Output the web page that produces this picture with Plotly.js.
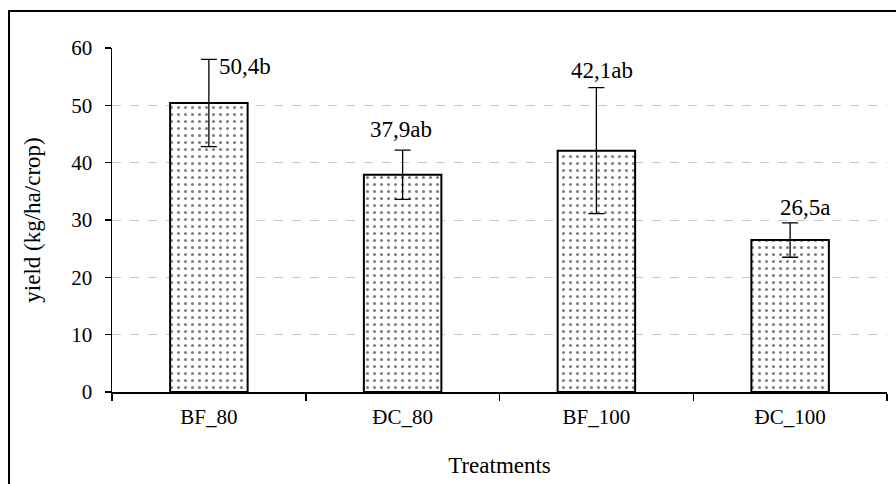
<!DOCTYPE html>
<html><head><meta charset="utf-8">
<script src="https://cdn.plot.ly/plotly-3.0.1.min.js"></script>
<style>body{margin:0;padding:0;background:#fff}#c{width:896px;height:484px}</style>
</head><body><div id="c"></div>
<script>
const categories = ["BF_80", "ĐC_80", "BF_100", "ĐC_100"];
const yieldValues = [50.4, 37.9, 42.1, 26.5];
const errorValues = [7.6, 4.3, 11.0, 3.0];
const labels = ["50,4b", "37,9ab", "42,1ab", "26,5a"];

const FAM = "Liberation Serif";
const labelShiftX = [8, -2, 6, 15];
const labelShiftY = [-7, 6, 3, 1];

const trace = {
  type: "bar",
  x: categories,
  y: yieldValues,
  width: 0.4,
  marker: {
    color: "#fff",
    line: {color: "#000", width: 2},
    pattern: {shape: ".", fgcolor: "#000", bgcolor: "#fff", size: 7, solidity: 0.15, fillmode: "overlay"}
  },
  error_y: {type: "data", array: errorValues, visible: true, color: "#000", thickness: 1.3, width: 8},
  hoverinfo: "none"
};

const annotations = categories.map((c, i) => {
  const top = yieldValues[i] + errorValues[i];
  if (i === 0) {
    return {x: c, y: top, text: labels[i], showarrow: false, xanchor: "left", yanchor: "middle", xshift: labelShiftX[i], yshift: labelShiftY[i], font: {family: FAM, color: "#000", size: 23}};
  }
  return {x: c, y: top, text: labels[i], showarrow: false, xanchor: "center", yanchor: "bottom", xshift: labelShiftX[i], yshift: labelShiftY[i], font: {family: FAM, color: "#000", size: 23}};
});

const layout = {
  width: 896, height: 484,
  margin: {l: 112, r: 9, t: 48, b: 92},
  paper_bgcolor: "#fff", plot_bgcolor: "#fff",
  showlegend: false,
  font: {family: FAM, color: "#000", size: 21},
  xaxis: {
    type: "category",
    range: [-0.5, 3.5],
    showline: true, linecolor: "#000", linewidth: 1.5,
    ticks: "outside", tickson: "boundaries", ticklen: 7, tickwidth: 1.5, tickcolor: "#000",
    showgrid: false, zeroline: false,
    ticklabelstandoff: 5,
    tickfont: {family: FAM, color: "#000", size: 21},
    title: {text: "Treatments", font: {family: FAM, color: "#000", size: 23}, standoff: 29}
  },
  yaxis: {
    range: [0, 60], dtick: 10,
    showline: true, linecolor: "#000", linewidth: 1.5,
    ticks: "outside", ticklen: 6, tickwidth: 1.5, tickcolor: "#000",
    showgrid: true, gridcolor: "#c8c8c8", griddash: "dash", gridwidth: 1,
    zeroline: false,
    ticklabelstandoff: 8,
    tickfont: {family: FAM, color: "#000", size: 21},
    title: {text: "yield (kg/ha/crop)", font: {family: FAM, color: "#000", size: 23}, standoff: 24}
  },
  annotations: annotations,
  shapes: [{
    type: "rect", xref: "paper", yref: "paper",
    x0: (9 - 112) / 775, x1: (905 - 112) / 775,
    y0: -0.5, y1: 1 + (48 - 11) / 344,
    line: {color: "#000", width: 2}, fillcolor: "rgba(0,0,0,0)", layer: "above"
  }]
};

Plotly.newPlot("c", [trace], layout, {displayModeBar: false, staticPlot: true});
</script>
</body></html>
